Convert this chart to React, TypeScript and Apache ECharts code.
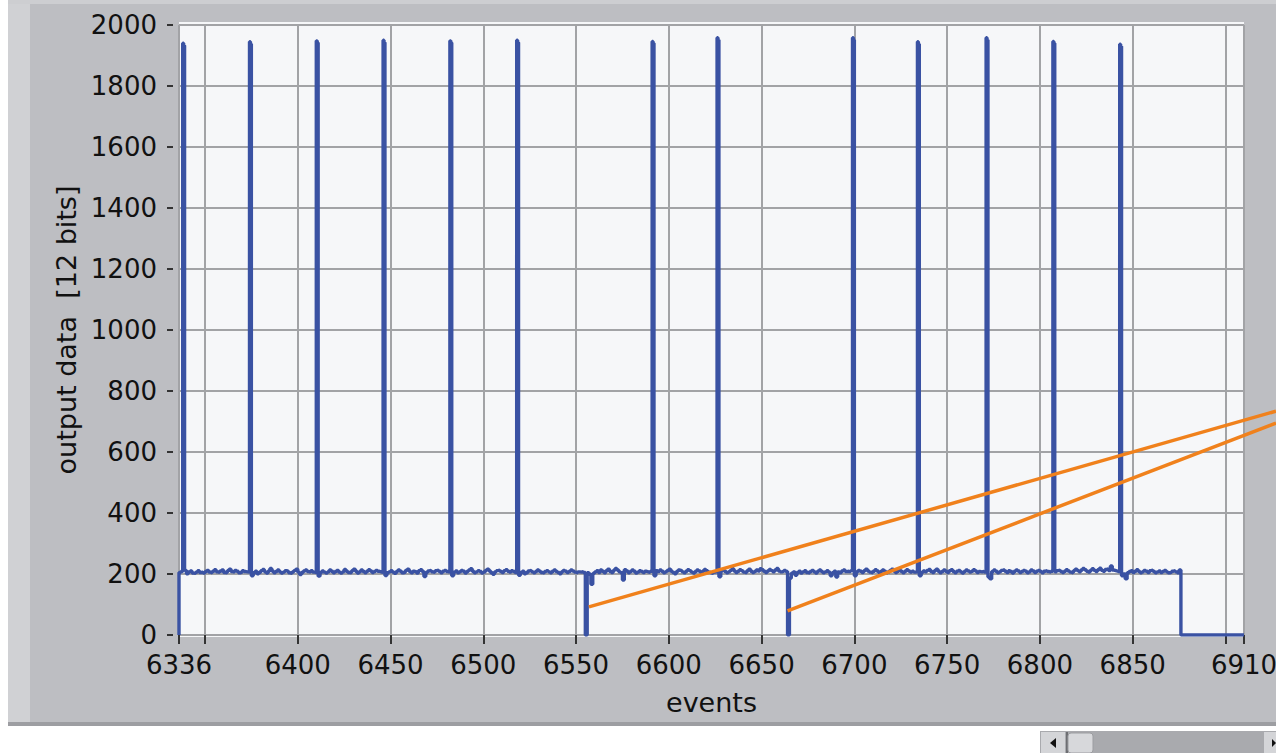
import React, { useEffect, useRef } from "react";
import * as echarts from "echarts";

const xLabelValues = [6336, 6400, 6450, 6500, 6550, 6600, 6650, 6700, 6750, 6800, 6850, 6910];
const xTickValues = [6336, 6350, 6400, 6450, 6500, 6550, 6600, 6650, 6700, 6750, 6800, 6850, 6900, 6910];

const firstEvent = 6336;
const endEvent = 6876;
const lastEvent = 6910;
// the fit lines run on past the plot to the panel edge
const overlayLastEvent = 6926.9;

const spikeEvents = [6338, 6374, 6410, 6446, 6482, 6518, 6591, 6626, 6699, 6734, 6771, 6807, 6843];
const spikeHeights = [1940, 1945, 1948, 1950, 1948, 1950, 1946, 1958, 1958, 1945, 1958, 1946, 1937];
const spikeTails = [1933, 1938, 1942, 1943, 1942, 1943, 1940, 1951, 1951, 1938, 1951, 1940, 1930];
const dropEvents = [6555, 6664];

// output data per event, 6336 .. 6875
const baseline = [
  205, 208, 204, 212, 201, 207, 210, 203, 202, 206, 211, 205, 206, 203, 208, 212, 206, 204,
  209, 214, 207, 205, 210, 213, 205, 204, 211, 216, 208, 206, 212, 209, 204, 206, 211, 208,
  207, 206, 204, 194, 204, 209, 201, 205, 211, 215, 207, 203, 210, 218, 210, 204, 208, 213,
  207, 203, 206, 211, 209, 204, 202, 207, 212, 216, 206, 198, 205, 210, 213, 208, 206, 211,
  206, 205, 203, 193, 205, 210, 206, 203, 207, 213, 209, 204, 208, 212, 206, 203, 207, 215,
  209, 205, 204, 211, 216, 209, 203, 207, 213, 208, 204, 209, 214, 210, 205, 208, 212, 209,
  207, 205, 206, 195, 204, 207, 211, 206, 202, 208, 213, 209, 204, 206, 212, 216, 208, 204,
  209, 207, 203, 211, 214, 208, 192, 205, 210, 212, 207, 205, 211, 213, 208, 204, 209, 212,
  208, 206, 205, 194, 206, 210, 204, 207, 212, 209, 203, 208, 213, 217, 209, 204, 207, 211,
  208, 203, 206, 212, 216, 210, 204, 199, 207, 211, 213, 208, 205, 211, 214, 209, 206, 211,
  208, 205, 206, 196, 205, 209, 201, 204, 210, 212, 207, 204, 208, 213, 209, 205, 203, 208,
  211, 207, 204, 209, 213, 208, 205, 201, 207, 212, 209, 205, 208, 213, 210, 206, 204, 207,
  206, 208, 205, 0, 204, 199, 166, 202, 207, 211, 205, 213, 209, 204, 211, 216, 208, 205,
  212, 218, 213, 207, 204, 180, 214, 210, 204, 208, 213, 209, 203, 206, 211, 208, 205, 209,
  207, 205, 209, 200, 194, 211, 208, 213, 209, 204, 207, 212, 216, 209, 205, 201, 208, 213,
  211, 207, 204, 209, 214, 211, 206, 203, 208, 213, 210, 205, 209, 215, 211, 206, 204, 202,
  206, 208, 204, 191, 210, 213, 208, 204, 207, 212, 217, 210, 205, 209, 214, 211, 206, 204,
  211, 216, 209, 205, 208, 213, 210, 217, 214, 209, 205, 210, 215, 211, 207, 213, 218, 210,
  207, 209, 212, 208, 0, 186, 203, 207, 196, 205, 209, 203, 207, 211, 205, 203, 208, 212,
  207, 203, 209, 213, 208, 204, 207, 211, 206, 194, 204, 209, 190, 207, 204, 210, 213, 208,
  209, 207, 211, 205, 194, 207, 212, 209, 205, 211, 216, 210, 206, 204, 209, 214, 210, 205,
  208, 213, 209, 204, 207, 212, 216, 210, 205, 209, 213, 208, 204, 209, 214, 210, 206, 209,
  206, 208, 211, 194, 205, 210, 207, 212, 215, 208, 205, 211, 216, 209, 204, 208, 213, 209,
  205, 211, 214, 208, 204, 209, 212, 207, 203, 208, 213, 210, 206, 209, 214, 210, 205, 208,
  207, 209, 206, 196, 190, 184, 208, 213, 209, 204, 207, 212, 214, 209, 205, 211, 208, 203,
  209, 213, 210, 205, 208, 212, 209, 204, 207, 213, 210, 205, 209, 212, 208, 204, 209, 211,
  208, 206, 209, 198, 207, 211, 213, 208, 205, 209, 214, 210, 206, 204, 211, 216, 211, 207,
  213, 218, 214, 209, 206, 212, 217, 212, 208, 214, 219, 212, 209, 215, 217, 211, 226, 213,
  211, 209, 207, 205, 194, 200, 184, 204, 208, 211, 205, 209, 214, 208, 204, 207, 212, 209,
  205, 211, 213, 208, 204, 207, 210, 205, 208, 212, 207, 204, 206, 209, 211, 207, 204, 213,
];

const fitLineA = [
  [6556.8, 92],
  [overlayLastEvent, 734],
];
const fitLineB = [
  [6663.8, 79],
  [overlayLastEvent, 695],
];

function buildTrace(): number[][] {
  const pts: number[][] = [[firstEvent, 0]];
  baseline.forEach((v, i) => {
    const e = firstEvent + i;
    const k = spikeEvents.indexOf(e);
    if (k >= 0) {
      pts.push([e, spikeHeights[k]]);
      pts.push([e + 0.5, spikeTails[k]]);
    } else if (dropEvents.includes(e)) {
      pts.push([e, 0]);
    } else {
      pts.push([e, v]);
    }
  });
  pts.push([endEvent, 0]);
  pts.push([lastEvent, 0]);
  return pts;
}

export default function App() {
  const ref = useRef<HTMLDivElement>(null);
  useEffect(() => {
    if (!ref.current) return;
    const chart = echarts.init(ref.current, undefined, { renderer: "svg" });
    const font = "'DejaVu Sans', Verdana, sans-serif";
    const plain = (v: number) => String(v);
    chart.setOption({
      animation: false,
      backgroundColor: "#ffffff",
      textStyle: { fontFamily: font },
      grid: [
        {
          left: 179,
          top: 25,
          width: 1065,
          height: 610,
          containLabel: false,
          outerBoundsMode: "none",
        },
        {
          left: 179,
          top: 25,
          width: 1097,
          height: 610,
          containLabel: false,
          outerBoundsMode: "none",
        },
      ],
      graphic: {
        elements: [
          { type: "rect", z: -20, shape: { x: 8, y: 0, width: 1268, height: 726 }, style: { fill: "#bdbec2" } },
          { type: "rect", z: -19, shape: { x: 8, y: 0, width: 22, height: 726 }, style: { fill: "#d0d1d4" } },
          { type: "rect", z: -19, shape: { x: 8, y: 0, width: 1268, height: 4 }, style: { fill: "#cdced1" } },
          { type: "rect", z: -19, shape: { x: 8, y: 722, width: 1268, height: 4 }, style: { fill: "#9d9ea2" } },
          { type: "rect", z: -18, shape: { x: 179, y: 22, width: 1065, height: 615 }, style: { fill: "#f6f7f9" } },
          // scrollbar
          { type: "rect", z: -18, shape: { x: 1040, y: 731, width: 236, height: 22 }, style: { fill: "#a9aaae" } },
          { type: "rect", z: -17, shape: { x: 1041, y: 732, width: 24, height: 21 }, style: { fill: "#d4d5d8" } },
          { type: "polygon", z: -16, shape: { points: [[1050, 743], [1056, 738], [1056, 748]] }, style: { fill: "#111" } },
          { type: "rect", z: -17, shape: { x: 1066, y: 732, width: 2, height: 21 }, style: { fill: "#6d6e72" } },
          { type: "rect", z: -17, shape: { x: 1068, y: 733, width: 25, height: 20, r: 3 }, style: { fill: "#d7d8db", stroke: "#9c9da1", lineWidth: 1 } },
          { type: "rect", z: -17, shape: { x: 1264, y: 732, width: 12, height: 21 }, style: { fill: "#d4d5d8" } },
          { type: "polygon", z: -16, shape: { points: [[1276, 743], [1272, 739], [1272, 747]] }, style: { fill: "#111" } },
        ],
      },
      xAxis: [
        {
          type: "value",
          gridIndex: 0,
          min: firstEvent,
          max: lastEvent,
          offset: 5,
          name: "events",
          nameLocation: "middle",
          nameGap: 49,
          nameTextStyle: { fontSize: 27, color: "#111", fontFamily: font },
          axisLine: { show: false },
          axisTick: {
            show: true,
            length: 9,
            customValues: xTickValues,
            lineStyle: { color: "#333", width: 2 },
          },
          axisLabel: {
            customValues: xLabelValues,
            margin: 12,
            fontSize: 26,
            color: "#111",
            fontFamily: font,
            hideOverlap: false,
            formatter: plain,
          },
          splitLine: { show: true, lineStyle: { color: "#a2a3a6", width: 2 } },
        },
        {
          type: "value",
          gridIndex: 1,
          min: firstEvent,
          max: overlayLastEvent,
          show: false,
          splitLine: { show: false },
        },
      ],
      yAxis: [
        {
          type: "value",
          gridIndex: 0,
          min: 0,
          max: 2000,
          interval: 200,
          offset: 6,
          name: "output data  [12 bits]",
          nameLocation: "middle",
          nameRotate: 90,
          nameGap: 76,
          nameTextStyle: { fontSize: 27, color: "#111", fontFamily: font },
          axisLine: { show: false },
          axisTick: { show: true, length: 6, lineStyle: { color: "#333", width: 2 } },
          axisLabel: { margin: 16, fontSize: 26, color: "#111", fontFamily: font, formatter: plain },
          splitLine: { show: true, lineStyle: { color: "#a2a3a6", width: 2 } },
        },
        {
          type: "value",
          gridIndex: 1,
          min: 0,
          max: 2000,
          show: false,
          splitLine: { show: false },
        },
      ],
      series: [
        {
          type: "line",
          xAxisIndex: 0,
          yAxisIndex: 0,
          data: buildTrace(),
          step: "end",
          symbol: "none",
          showSymbol: false,
          lineStyle: { color: "#3a52a3", width: 3.4 },
          z: 3,
        },
        {
          type: "line",
          xAxisIndex: 1,
          yAxisIndex: 1,
          data: fitLineA,
          symbol: "none",
          lineStyle: { color: "#f0811c", width: 3.5 },
          z: 4,
        },
        {
          type: "line",
          xAxisIndex: 1,
          yAxisIndex: 1,
          data: fitLineB,
          symbol: "none",
          lineStyle: { color: "#f0811c", width: 3.5 },
          z: 4,
        },
      ],
    });
    return () => chart.dispose();
  }, []);
  return (
    <div
      ref={ref}
      style={{ position: "absolute", left: 0, top: 0, width: 1276, height: 753 }}
    />
  );
}
